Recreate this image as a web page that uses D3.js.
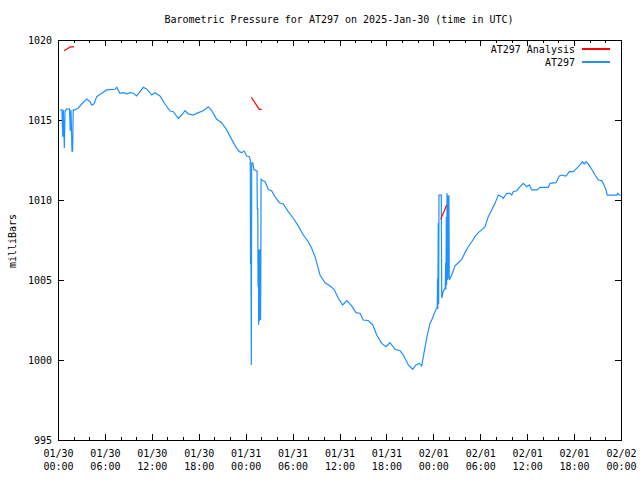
<!DOCTYPE html>
<html>
<head>
<meta charset="utf-8">
<script src="https://cdn.jsdelivr.net/npm/d3@7"></script>
<style>
  html, body { margin: 0; padding: 0; background: #fff; }
  svg text { font-family: "DejaVu Sans Mono", "Liberation Mono", monospace; font-size: 10px; fill: #000; }
</style>
</head>
<body>
<svg id="chart" width="640" height="480"></svg>
<script>
// ---- Data (hours after 2025-01-30 00:00 UTC, pressure in mbar) ----
const titleText = "Barometric Pressure for AT297 on 2025-Jan-30 (time in UTC)";
const yLabel = "milliBars";
const seriesNames = ["AT297 Analysis", "AT297"];
const yTickValues = [995, 1000, 1005, 1010, 1015, 1020];
const xStart = "2025-01-30T00:00:00Z";
const xEnd = "2025-02-02T00:00:00Z";

const stationHours = [
  0.26, 0.51, 0.60, 0.68, 0.81, 0.90, 1.11, 1.47, 1.57, 1.66, 1.79, 1.87, 1.95, 2.17, 2.60, 3.03,
  3.67, 4.09, 4.31, 4.60, 4.95, 5.59, 6.23, 7.29, 7.51, 7.93, 8.35, 8.79, 9.21, 9.63, 10.06, 10.49,
  10.91, 11.34, 11.98, 12.41, 13.04, 13.68, 14.32, 14.75, 15.38, 15.82, 16.24, 16.66, 17.30, 17.94,
  18.58, 19.22, 19.66, 20.30, 20.93, 21.57, 22.21, 22.85, 23.19, 23.49, 23.79, 24.13, 24.47, 24.59,
  24.62, 24.68, 24.72, 24.77, 24.90, 25.07, 25.45, 25.49, 25.55, 25.58, 25.63, 25.66, 25.70, 25.74,
  25.78, 25.82, 25.86, 25.90, 25.93, 25.97, 26.05, 26.47, 26.89, 27.33, 27.75, 28.30, 28.81, 29.45,
  30.09, 30.73, 31.37, 32.01, 32.44, 32.87, 33.16, 33.51, 34.15, 34.79, 35.30, 35.85, 36.41, 36.92,
  37.56, 38.11, 38.62, 39.04, 39.68, 40.25, 40.76, 41.40, 41.95, 42.46, 43.10, 43.74, 44.16, 44.80,
  45.36, 45.78, 46.21, 46.51, 46.72, 47.15, 47.57, 47.79, 48.21, 48.43, 48.50, 48.54, 48.58, 48.63,
  48.68, 48.72, 49.02, 49.07, 49.15, 49.24, 49.36, 49.53, 49.57, 49.61, 49.66, 49.70, 49.75, 49.79,
  49.83, 49.87, 49.91, 49.95, 49.99, 50.04, 50.35, 50.77, 51.19, 51.63, 52.05, 52.47, 52.91, 53.33,
  53.75, 54.19, 54.61, 55.03, 55.46, 55.89, 56.31, 56.74, 56.95, 57.38, 57.80, 58.02, 58.23, 58.66,
  59.00, 59.51, 59.94, 60.27, 60.58, 61.30, 61.64, 62.70, 62.92, 63.69, 64.11, 64.42, 64.97, 65.39,
  65.90, 66.33, 66.76, 67.05, 67.31, 67.52, 67.82, 68.25, 68.68, 69.10, 69.53, 69.83, 70.08, 70.25,
  70.81, 71.45, 71.58, 71.78, 71.96
];
const stationPressure = [
  1015.63, 1015.63, 1013.96, 1015.63, 1013.25, 1015.56, 1015.70, 1015.69, 1014.33, 1015.63, 1013.06, 1013.06, 1015.63, 1015.63, 1015.75, 1016.00,
  1016.31, 1016.14, 1015.94, 1016.00, 1016.46, 1016.67, 1016.88, 1016.92, 1017.04, 1016.67, 1016.71, 1016.63, 1016.71, 1016.67, 1016.50, 1016.77,
  1017.04, 1016.94, 1016.56, 1016.71, 1016.50, 1016.00, 1015.56, 1015.52, 1015.11, 1015.31, 1015.58, 1015.38, 1015.31, 1015.46,
  1015.58, 1015.83, 1015.58, 1015.04, 1014.83, 1014.38, 1013.79, 1013.23, 1013.02, 1012.96, 1013.06, 1012.75, 1012.71, 1012.50,
  1006.04, 1006.04, 999.69, 1012.31, 1012.33, 1011.88, 1011.81, 1009.45, 1009.45, 1004.60, 1006.90, 1002.20, 1006.90, 1002.40,
  1006.90, 1002.50, 1006.90, 1002.50, 1004.50, 1011.30, 1011.25, 1011.14, 1010.67, 1010.56, 1010.21, 1009.83, 1009.75, 1009.27,
  1008.86, 1008.38, 1007.81, 1007.39, 1006.98, 1006.46, 1005.94, 1005.31, 1004.83, 1004.63, 1004.42, 1003.86, 1003.44, 1003.71,
  1003.38, 1002.96, 1002.92, 1002.50, 1002.46, 1002.19, 1001.56, 1001.04, 1000.83, 1001.08, 1000.67, 1000.58, 1000.31, 999.69,
  999.42, 999.69, 999.79, 999.63, 1000.21, 1001.36, 1002.29, 1002.50, 1003.02, 1003.23, 1003.23, 1005.10, 1003.20, 1008.56,
  1003.50, 1010.31, 1010.31, 1003.88, 1004.00, 1004.25, 1004.38, 1004.50, 1006.06, 1004.40, 1008.94, 1004.69, 1010.44, 1005.00,
  1010.30, 1005.10, 1010.00, 1006.50, 1010.30, 1005.00, 1005.31, 1005.88, 1006.08, 1006.29, 1006.71, 1007.08, 1007.39, 1007.71,
  1007.96, 1008.13, 1008.33, 1008.96, 1009.38, 1009.79, 1010.31, 1010.21, 1010.11, 1010.42, 1010.42, 1010.31, 1010.52, 1010.58,
  1010.79, 1011.04, 1010.83, 1010.94, 1010.63, 1010.63, 1010.79, 1010.79, 1011.04, 1011.08, 1011.50, 1011.56, 1011.50, 1011.77,
  1011.77, 1011.98, 1012.19, 1012.39, 1012.25, 1012.39, 1012.25, 1011.92, 1011.56, 1011.25, 1011.21, 1010.94, 1010.63, 1010.31,
  1010.31, 1010.31, 1010.42, 1010.31, 1010.31
];
// Analysis series: null marks a gap between short segments
const analysisHours = [0.77, 1.15, 1.53, 2.05, null, 24.72, 25.74, 26.05, null, 48.94, 49.71];
const analysisPressure = [1019.33, 1019.44, 1019.56, 1019.58, null, 1016.42, 1015.67, 1015.67, null, 1008.79, 1009.69];

// ---- Layout ----
const W = 640, H = 480;
const plot = { left: 58, right: 621, top: 40, bottom: 440 };
const colors = { analysis: "#ff0000", station: "#1e90ff" };

const svg = d3.select("#chart");
const t0 = new Date(xStart), t1 = new Date(xEnd);
const toDate = h => new Date(t0.getTime() + h * 3600000);

const x = d3.scaleUtc().domain([t0, t1]).range([plot.left, plot.right]);
const y = d3.scaleLinear().domain([995, 1020]).range([plot.bottom, plot.top]);

// minor ticks (every 2 h) bottom & top
svg.append("g").attr("transform", `translate(0,${plot.bottom})`)
  .call(d3.axisBottom(x).ticks(d3.utcHour.every(2)).tickSizeInner(-3).tickSizeOuter(0).tickFormat(""))
  .call(g => g.select(".domain").remove());
svg.append("g").attr("transform", `translate(0,${plot.top})`)
  .call(d3.axisTop(x).ticks(d3.utcHour.every(2)).tickSizeInner(-3).tickSizeOuter(0).tickFormat(""))
  .call(g => g.select(".domain").remove());

// major x ticks
const fmtDay = d3.utcFormat("%m/%d"), fmtTime = d3.utcFormat("%H:%M");
const xb = svg.append("g").attr("transform", `translate(0,${plot.bottom})`)
  .call(d3.axisBottom(x).ticks(d3.utcHour.every(6)).tickSizeInner(-6).tickSizeOuter(0))
  .call(g => g.select(".domain").remove());
xb.selectAll(".tick text").each(function(d) {
  const t = d3.select(this);
  t.text(null).attr("y", null).attr("dy", null).attr("fill", "#000");
  t.append("tspan").attr("x", 0).attr("y", 17).text(fmtDay(d));
  t.append("tspan").attr("x", 0).attr("y", 30).text(fmtTime(d));
});
svg.append("g").attr("transform", `translate(0,${plot.top})`)
  .call(d3.axisTop(x).ticks(d3.utcHour.every(6)).tickSizeInner(-6).tickSizeOuter(0).tickFormat(""))
  .call(g => g.select(".domain").remove());

// y ticks
svg.append("g").attr("transform", `translate(${plot.left},0)`)
  .call(d3.axisLeft(y).tickValues(yTickValues).tickSizeInner(-6).tickSizeOuter(0).tickPadding(6).tickFormat(d3.format("d")))
  .call(g => g.select(".domain").remove())
  .call(g => g.selectAll(".tick text").attr("fill", "#000"));
svg.append("g").attr("transform", `translate(${plot.right},0)`)
  .call(d3.axisRight(y).tickValues(yTickValues).tickSizeInner(-6).tickSizeOuter(0).tickFormat(""))
  .call(g => g.select(".domain").remove());

svg.selectAll(".tick line").attr("stroke", "#000").attr("shape-rendering", "crispEdges");
svg.selectAll("g").attr("font-family", null).attr("font-size", null);

// border
svg.append("rect")
  .attr("x", plot.left).attr("y", plot.top)
  .attr("width", plot.right - plot.left).attr("height", plot.bottom - plot.top)
  .attr("fill", "none").attr("stroke", "#000").attr("stroke-width", 1)
  .attr("shape-rendering", "crispEdges");

// data lines
const stationData = stationHours.map((h, i) => ({ t: toDate(h), v: stationPressure[i] }));
const analysisData = analysisHours.map((h, i) => ({ t: h === null ? null : toDate(h), v: analysisPressure[i] }));
const line = d3.line().defined(d => d.v !== null && d.t !== null).x(d => x(d.t)).y(d => y(d.v));

svg.append("path").datum(stationData)
  .attr("d", line).attr("fill", "none").attr("stroke", colors.station).attr("stroke-width", 1.2)
  .attr("stroke-linejoin", "miter");
svg.append("path").datum(analysisData)
  .attr("d", line).attr("fill", "none").attr("stroke", colors.analysis).attr("stroke-width", 1.2);

// title
svg.append("text").attr("x", 339).attr("y", 23).attr("text-anchor", "middle").text(titleText);

// y label
svg.append("text").attr("transform", "translate(12,241) rotate(-90)")
  .attr("text-anchor", "middle").attr("dy", "0.35em").text(yLabel);

// legend
const legend = svg.append("g");
[[seriesNames[0], colors.analysis, 49], [seriesNames[1], colors.station, 62]].forEach(([name, c, ly]) => {
  legend.append("text").attr("x", 575).attr("y", ly).attr("dy", "0.35em").attr("text-anchor", "end").text(name);
  legend.append("line").attr("x1", 582).attr("x2", 610).attr("y1", ly).attr("y2", ly)
    .attr("stroke", c).attr("stroke-width", 1.2).attr("shape-rendering", "crispEdges");
});
</script>
</body>
</html>
